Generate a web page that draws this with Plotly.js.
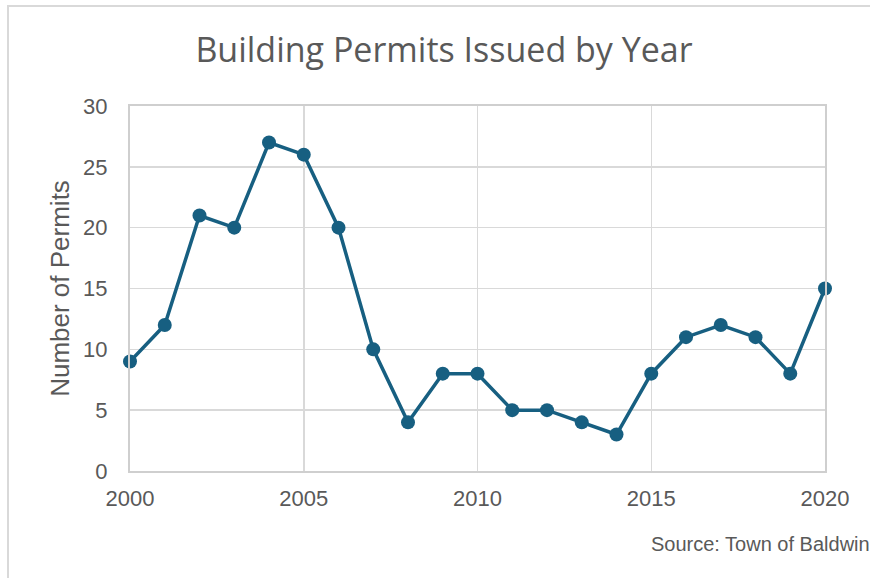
<!DOCTYPE html>
<html>
<head>
<meta charset="utf-8">
<script src="https://cdn.plot.ly/plotly-3.0.1.min.js"></script>
<style>
  body { margin: 0; background: #fff; overflow: hidden; }
  #frame { position: absolute; left: 7px; top: 5px; width: 900px; height: 600px; border: 2px solid #d9d9d9; }
  #graph { position: absolute; left: 0; top: 0; width: 870px; height: 578px; }
</style>
</head>
<body>
<div id="frame"></div>
<div id="graph"></div>
<script>
var years = [2000, 2001, 2002, 2003, 2004, 2005, 2006, 2007, 2008, 2009, 2010,
             2011, 2012, 2013, 2014, 2015, 2016, 2017, 2018, 2019, 2020];
var permits = [9, 12, 21, 20, 27, 26, 20, 10, 4, 8, 8,
               5, 5, 4, 3, 8, 11, 12, 11, 8, 15];
var xTicks = [2000, 2005, 2010, 2015, 2020];
var yTicks = [0, 5, 10, 15, 20, 25, 30];

var lineColor = '#175f81';
var textColor = '#595959';

var trace = {
  x: years,
  y: permits,
  type: 'scatter',
  mode: 'lines+markers',
  line: { color: lineColor, width: 3.5 },
  marker: { color: lineColor, size: 14 },
  cliponaxis: false,
  hoverinfo: 'x+y'
};

var layout = {
  width: 870,
  height: 578,
  paper_bgcolor: 'rgba(0,0,0,0)',
  plot_bgcolor: '#ffffff',
  margin: { l: 130, r: 45, t: 106, b: 107 },
  showlegend: false,
  font: { family: 'Liberation Sans, Arial, sans-serif', color: textColor },
  title: {
    text: 'Building Permits Issued by Year',
    font: { family: 'Open Sans, sans-serif', size: 34, color: textColor },
    xref: 'container', x: 444 / 870, xanchor: 'center',
    yref: 'container', y: 1 - 50 / 578, yanchor: 'middle'
  },
  xaxis: {
    range: [2000, 2020],
    tickvals: xTicks,
    ticks: '',
    tickfont: { size: 22, color: textColor },
    ticklabelstandoff: 7,
    showgrid: true,
    gridcolor: '#d9d9d9',
    gridwidth: 1.5,
    showline: true,
    linecolor: '#cfcfcf',
    linewidth: 2,
    mirror: true,
    zeroline: false,
    fixedrange: true
  },
  yaxis: {
    range: [0, 30],
    tickvals: yTicks,
    ticks: '',
    tickfont: { size: 22, color: textColor },
    ticklabelstandoff: 16,
    showgrid: true,
    gridcolor: '#d9d9d9',
    gridwidth: 1.5,
    showline: true,
    linecolor: '#cfcfcf',
    linewidth: 2,
    mirror: true,
    zeroline: false,
    fixedrange: true,
    title: {
      text: 'Number of Permits',
      font: { size: 26, color: textColor },
      standoff: 6
    }
  },
  annotations: [{
    text: 'Source: Town of Baldwin',
    xref: 'paper', x: (872 - 130) / 695, xanchor: 'right',
    yref: 'paper', y: (471 - 544) / 365, yanchor: 'middle',
    showarrow: false,
    font: { size: 20, color: textColor }
  }]
};

Plotly.newPlot('graph', [trace], layout, { displayModeBar: false, staticPlot: true });
</script>
</body>
</html>
